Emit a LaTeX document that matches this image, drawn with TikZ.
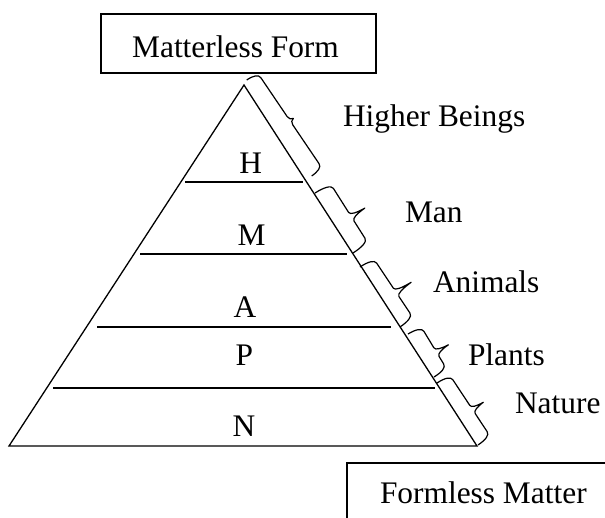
\documentclass[tikz,border=0pt]{standalone}
\usepackage{fontspec}
\setmainfont{Liberation Serif}
\newcommand{\drawbrace}[7]{%
  \pgfmathsetmacro\bdx{#3-#1}%
  \pgfmathsetmacro\bdy{#2-#4}%
  \pgfmathsetmacro\bang{atan2(\bdy,\bdx)}%
  \pgfmathsetmacro\bL{veclen(\bdx,\bdy)}%
  \pgfmathsetmacro\bm{#5*\bL}%
  \begin{scope}[shift={(#1,#2)}, rotate=\bang, x=1pt, y=1pt]
    \draw[bracepath] (0,0) .. controls (0,0.6*#6) and (2,#6) .. (6,#6)
      -- (\bm-5,#6) .. controls (\bm-2,#6) and (\bm-0.5,#6+0.4*#7) .. (\bm,#6+#7)
      .. controls (\bm+0.5,#6+0.4*#7) and (\bm+2,#6) .. (\bm+5,#6)
      -- (\bL-6,#6) .. controls (\bL-2,#6) and (\bL,0.6*#6) .. (\bL,0);
  \end{scope}}
\begin{document}
\begin{tikzpicture}[x=1pt,y=-1pt,
  lbl/.style={inner sep=0pt, outer sep=0pt, anchor=base west, font=\fontsize{31.4}{36}\selectfont},
  frame/.style={draw, line width=1.4pt},
  edge/.style={line width=1.3pt, line join=miter},
  tier/.style={line width=1.5pt},
  bracepath/.style={line width=1.2pt, line join=round}]
\useasboundingbox (0,0) rectangle (605,517);
\clip (0,0) rectangle (605,517);

% boxes
\draw[frame] (101,14) rectangle (376,73);
\draw[frame] (347,463) rectangle (640,560);
\node[lbl, anchor=base] (mf) at (235.5,57) {Matterless Form};
\node[lbl] (fm) at (380,503) {Formless Matter};

% pyramid
\coordinate (apex) at (244,85);
\coordinate (bl) at (9,446);
\coordinate (br) at (477,446);
\draw[edge] (apex) -- (br) -- (bl) -- cycle;
\draw[tier] (185,182) -- (303,182);
\draw[tier] (140,254) -- (347,254);
\draw[tier] (97,327) -- (391,327);
\draw[tier] (53,388) -- (435,388);

% tier letters
\node[lbl] (h) at (239.4,173) {H};
\node[lbl] (m) at (237.5,245) {M};
\node[lbl] (a) at (233.5,317) {A};
\node[lbl] (p) at (235.5,365) {P};
\node[lbl] (n) at (232.5,436) {N};

% braces
\drawbrace{246.7}{80}{311.7}{176}{0.5}{13}{4}
\drawbrace{315}{193}{353}{253}{0.555}{18}{16}
\drawbrace{360}{267}{400}{327}{0.57}{16}{18}
\drawbrace{408}{334}{434}{377}{0.6}{15}{14}
\drawbrace{437}{383}{478}{445}{0.56}{15}{13}

% brace labels
\node[lbl] (hb) at (343,126) {Higher Beings};
\node[lbl] (man) at (405,222) {Man};
\node[lbl] (ani) at (433,292) {Animals};
\node[lbl] (pla) at (468,365) {Plants};
\node[lbl] (nat) at (515,413) {Nature};
\end{tikzpicture}
\end{document}
